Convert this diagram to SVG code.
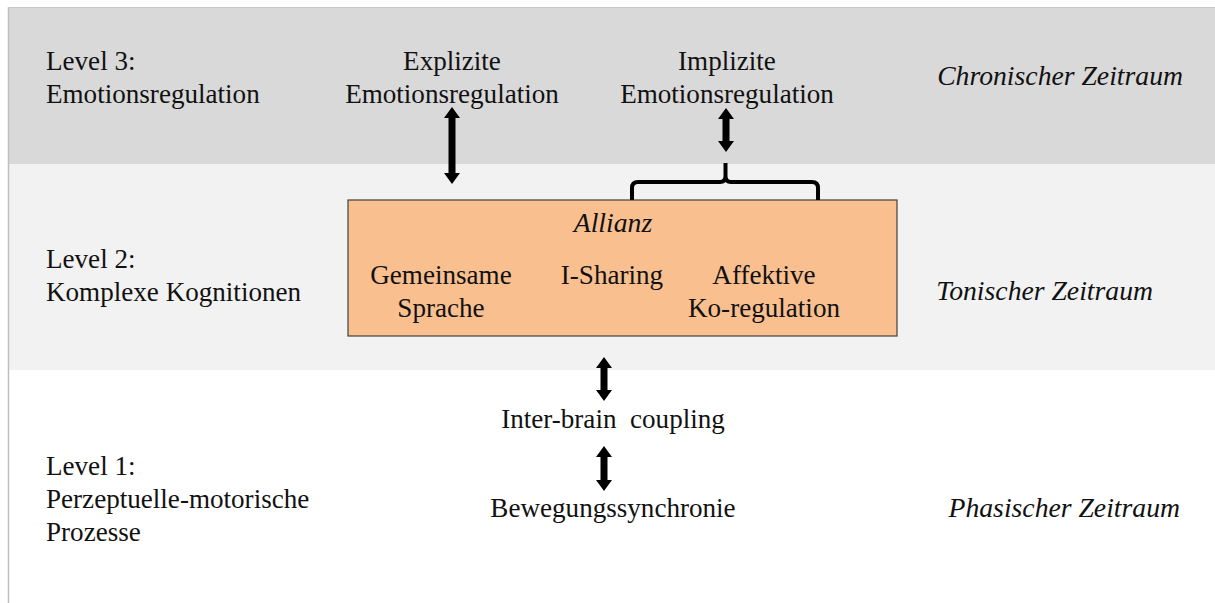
<svg xmlns="http://www.w3.org/2000/svg" width="1215" height="603" viewBox="0 0 1215 603">
<style>
text{font-family:"Liberation Serif","Times New Roman",serif;font-size:27.1px;fill:#111}
.it{font-style:italic;font-size:27.7px}
.c{text-anchor:middle}
.arrow{fill:#000}
</style>
<rect x="0" y="0" width="1215" height="603" fill="#fff"/>
<g id="bands">
<rect x="8" y="7" width="1207" height="157" fill="#d9d9d9"/>
<rect x="8" y="164" width="1207" height="206" fill="#f2f2f2"/>
<line x1="8.5" y1="7" x2="8.5" y2="603" stroke="#bfbfbf" stroke-width="1.5"/>
<line x1="8" y1="7.5" x2="1215" y2="7.5" stroke="#c8c8c8" stroke-width="1"/>
</g>
<g id="level3">
<text x="46" y="70">Level 3:</text>
<text x="46" y="103">Emotionsregulation</text>
<text class="it" x="1183" y="85" text-anchor="end">Chronischer Zeitraum</text>
</g>
<g id="explizit">
<text class="c" x="452" y="70">Explizite</text>
<text class="c" x="452" y="103">Emotionsregulation</text>
</g>
<g id="implizit">
<text class="c" x="727" y="70">Implizite</text>
<text class="c" x="727" y="103">Emotionsregulation</text>
</g>
<g id="level2">
<text x="46" y="268">Level 2:</text>
<text x="46" y="301">Komplexe Kognitionen</text>
<text class="it" x="1153" y="300" text-anchor="end">Tonischer Zeitraum</text>
</g>
<g id="allianz">
<rect x="348" y="200" width="549" height="136" fill="#f9bf8f" stroke="#404040" stroke-width="1.2"/>
<text class="it c" x="613" y="232">Allianz</text>
<text class="c" x="441" y="284">Gemeinsame</text>
<text class="c" x="441" y="317">Sprache</text>
<text class="c" x="612" y="284">I-Sharing</text>
<text class="c" x="764" y="284">Affektive</text>
<text class="c" x="764" y="317">Ko-regulation</text>
</g>
<g id="level1">
<text x="46" y="475">Level 1:</text>
<text x="46" y="508">Perzeptuelle-motorische</text>
<text x="46" y="541">Prozesse</text>
<text class="it" x="1180" y="517" text-anchor="end">Phasischer Zeitraum</text>
</g>
<g id="interbrain">
<text class="c" x="613" y="428" xml:space="preserve">Inter-brain  coupling</text>
</g>
<g id="bewegung">
<text class="c" x="613" y="517">Bewegungssynchronie</text>
</g>
<g id="connectors" class="arrow">
<path d="M452,107 L460,118 L455.5,118 L455.5,173 L460,173 L452,184 L444,173 L448.5,173 L448.5,118 L444,118 Z"/>
<path d="M726,108 L734,119 L729.5,119 L729.5,141 L734,141 L726,152 L718,141 L722.5,141 L722.5,119 L718,119 Z"/>
<path d="M604,357 L612,368 L607.5,368 L607.5,390 L612,390 L604,401 L596,390 L600.5,390 L600.5,368 L596,368 Z"/>
<path d="M604,446 L612,457 L607.5,457 L607.5,480 L612,480 L604,491 L596,480 L600.5,480 L600.5,457 L596,457 Z"/>
<path d="M632,200 V188 Q632,182 638,182 H720 Q725.5,182 725.5,176 V163 M725.5,176 Q725.5,182 731,182 H812 Q818,182 818,188 V200" fill="none" stroke="#000" stroke-width="4"/>
</g>
</svg>
